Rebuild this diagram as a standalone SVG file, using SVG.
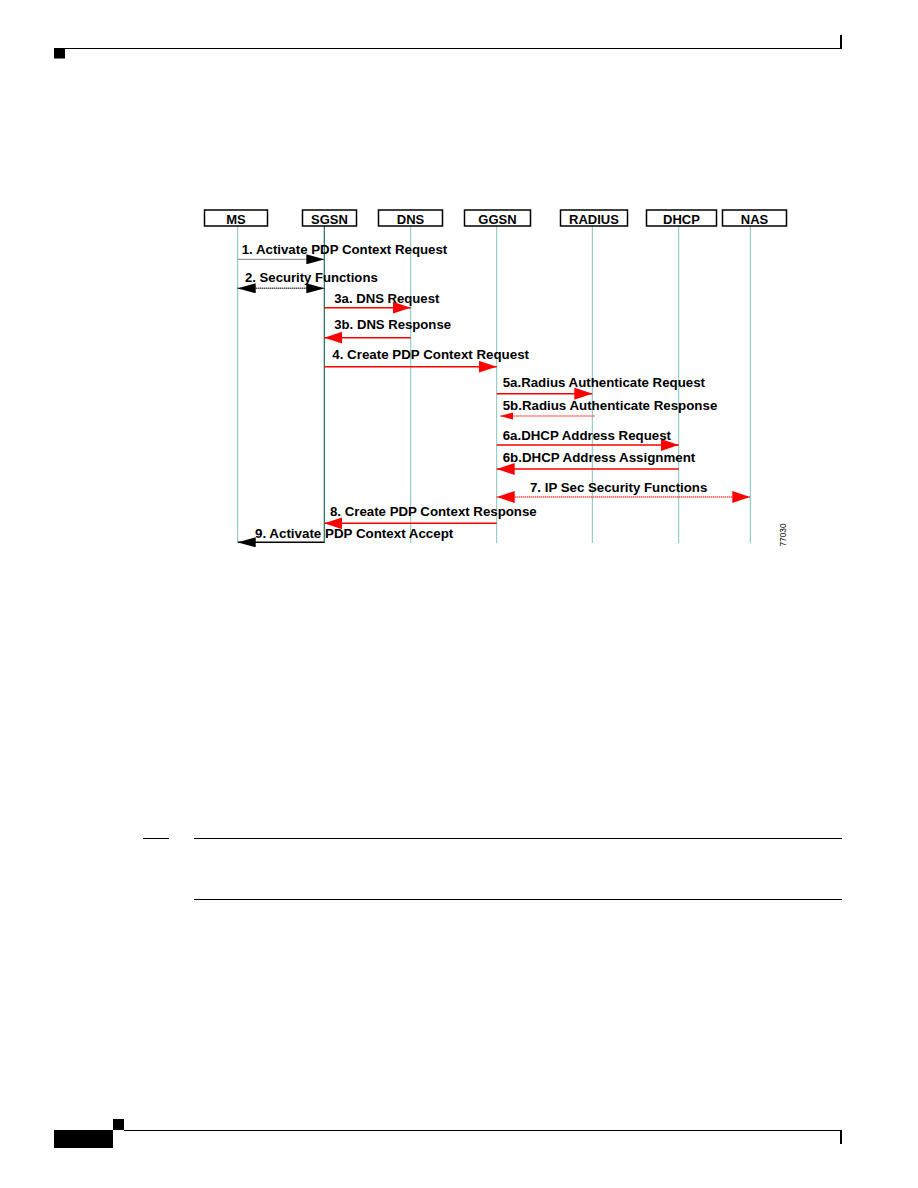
<svg xmlns="http://www.w3.org/2000/svg" width="918" height="1188" viewBox="0 0 918 1188">
<defs>
<style>
.box{fill:#fff;stroke:#000;stroke-width:1.5}
.bl{font-family:"Liberation Sans",Arial,sans-serif;font-weight:bold;font-size:13px;fill:#000;text-anchor:middle}
.ml{font-family:"Liberation Sans",Arial,sans-serif;font-weight:bold;font-size:12px;fill:#000}
.life{stroke:#80c4bc;stroke-width:1;fill:none}
.lifed{stroke:#1f6f60;stroke-width:1.2;fill:none}
.red{stroke:#ff0000;stroke-width:1.5;fill:none}
.redt{stroke:#ff5050;stroke-width:1;fill:none}
.gray{stroke:#808080;stroke-width:1;fill:none}
.blk{stroke:#000;stroke-width:1.5;fill:none}
.dot{stroke-dasharray:1,1}
.rule{stroke:#000;stroke-width:1.2;fill:none}
</style>
<marker id="ar" markerUnits="userSpaceOnUse" markerWidth="18" markerHeight="12" refX="18" refY="6" orient="auto-start-reverse"><path d="M0,0 L18,6 L0,12 z" fill="#ff0000"/></marker>
<marker id="ab" markerUnits="userSpaceOnUse" markerWidth="18" markerHeight="10" refX="18" refY="5" orient="auto-start-reverse"><path d="M0,0 L18,5 L0,10 z" fill="#000"/></marker>
</defs>

<g id="page">
<rect x="54" y="48" width="11" height="10.5" fill="#000"/>
<line class="rule" x1="65" y1="48.5" x2="842" y2="48.5"/>
<line x1="841" y1="35" x2="841" y2="49" stroke="#000" stroke-width="2"/>
<rect x="54" y="1130" width="59" height="18" fill="#000"/>
<rect x="113" y="1119" width="11" height="11" fill="#000"/>
<line class="rule" x1="124" y1="1130.5" x2="842" y2="1130.5"/>
<line x1="841" y1="1130" x2="841" y2="1144" stroke="#000" stroke-width="2"/>
<line x1="143" y1="838.5" x2="169" y2="838.5" stroke="#000" stroke-width="1"/>
<line class="rule" x1="194" y1="838.5" x2="842" y2="838.5"/>
<line class="rule" x1="194" y1="899.5" x2="842" y2="899.5"/>
</g>

<g id="lifelines">
<line class="life" x1="237.7" y1="226" x2="237.7" y2="542"/>
<line class="lifed" x1="324.3" y1="226" x2="324.3" y2="543"/>
<line class="life" x1="410.7" y1="226" x2="410.7" y2="543"/>
<line class="life" x1="496.7" y1="226" x2="496.7" y2="543"/>
<line class="life" x1="592.3" y1="226" x2="592.3" y2="543"/>
<line class="life" x1="678.7" y1="226" x2="678.7" y2="543"/>
<line class="life" x1="750.3" y1="226" x2="750.3" y2="543"/>
</g>

<g id="node-MS"><rect class="box" x="204.5" y="210" width="63" height="16"/><text class="bl" x="236" y="224">MS</text></g>
<g id="node-SGSN"><rect class="box" x="302.5" y="210" width="54" height="16"/><text class="bl" x="329.5" y="224">SGSN</text></g>
<g id="node-DNS"><rect class="box" x="378.5" y="210" width="64" height="16"/><text class="bl" x="410.5" y="224">DNS</text></g>
<g id="node-GGSN"><rect class="box" x="464.5" y="210" width="66" height="16"/><text class="bl" x="497.5" y="224">GGSN</text></g>
<g id="node-RADIUS"><rect class="box" x="560.5" y="210" width="67" height="16"/><text class="bl" x="594" y="224">RADIUS</text></g>
<g id="node-DHCP"><rect class="box" x="646.5" y="210" width="70" height="16"/><text class="bl" x="681.5" y="224">DHCP</text></g>
<g id="node-NAS"><rect class="box" x="722.5" y="210" width="64" height="16"/><text class="bl" x="754.5" y="224">NAS</text></g>

<g id="connectors">
<line class="gray" x1="237.7" y1="259.3" x2="324.3" y2="259.3" marker-end="url(#ab)"/>
<line class="blk dot" x1="237.7" y1="288.3" x2="324.3" y2="288.3" stroke-width="1" marker-start="url(#ab)" marker-end="url(#ab)"/>
<line class="red" x1="324.3" y1="307.7" x2="410.7" y2="307.7" marker-end="url(#ar)"/>
<line class="red" x1="410.7" y1="337.7" x2="324.3" y2="337.7" stroke-width="1" marker-end="url(#ar)"/>
<line class="red" x1="324.3" y1="366.7" x2="496.7" y2="366.7" marker-end="url(#ar)"/>
<line class="red" x1="496.7" y1="393.7" x2="592.3" y2="393.7" stroke-width="1" marker-end="url(#ar)"/>
<line class="redt" x1="595" y1="416" x2="500" y2="416"/>
<path d="M500,416 L513,412.5 L513,419.5 z" fill="#ff0000"/>
<line class="red" x1="496.7" y1="445" x2="678.7" y2="445" marker-end="url(#ar)"/>
<line class="red" x1="678.7" y1="469" x2="496.7" y2="469" marker-end="url(#ar)"/>
<line class="red dot" x1="496.7" y1="497" x2="750.3" y2="497" stroke-width="1" marker-start="url(#ar)" marker-end="url(#ar)"/>
<line class="red" x1="496.7" y1="523.3" x2="324.3" y2="523.3" marker-end="url(#ar)"/>
<line class="blk" x1="324.3" y1="542.3" x2="237.7" y2="542.3" marker-end="url(#ab)"/>
</g>

<g id="labels">
<text class="ml" x="241.7" y="253.5" textLength="205.6" lengthAdjust="spacingAndGlyphs">1. Activate PDP Context Request</text>
<text class="ml" x="245" y="281.7" textLength="132.7" lengthAdjust="spacingAndGlyphs">2. Security Functions</text>
<text class="ml" x="334.3" y="302.7" textLength="105" lengthAdjust="spacingAndGlyphs">3a. DNS Request</text>
<text class="ml" x="334.3" y="329" textLength="116.7" lengthAdjust="spacingAndGlyphs">3b. DNS Response</text>
<text class="ml" x="332.3" y="359" textLength="196.7" lengthAdjust="spacingAndGlyphs">4. Create PDP Context Request</text>
<text class="ml" x="502.7" y="386.7" textLength="202.3" lengthAdjust="spacingAndGlyphs">5a.Radius Authenticate Request</text>
<text class="ml" x="502.7" y="410" textLength="214.6" lengthAdjust="spacingAndGlyphs">5b.Radius Authenticate Response</text>
<text class="ml" x="502.7" y="440" textLength="168.3" lengthAdjust="spacingAndGlyphs">6a.DHCP Address Request</text>
<text class="ml" x="502.7" y="461.7" textLength="192.6" lengthAdjust="spacingAndGlyphs">6b.DHCP Address Assignment</text>
<text class="ml" x="530" y="491.7" textLength="177.3" lengthAdjust="spacingAndGlyphs">7. IP Sec Security Functions</text>
<text class="ml" x="330" y="515.7" textLength="206.7" lengthAdjust="spacingAndGlyphs">8. Create PDP Context Response</text>
<text class="ml" x="255" y="538.3" textLength="198.3" lengthAdjust="spacingAndGlyphs">9. Activate PDP Context Accept</text>
<text x="785.5" y="546.5" transform="rotate(-90 785.5 546.5)" font-family="'Liberation Sans',Arial,sans-serif" font-size="9" fill="#000" textLength="23" lengthAdjust="spacingAndGlyphs">77030</text>
</g>
</svg>
